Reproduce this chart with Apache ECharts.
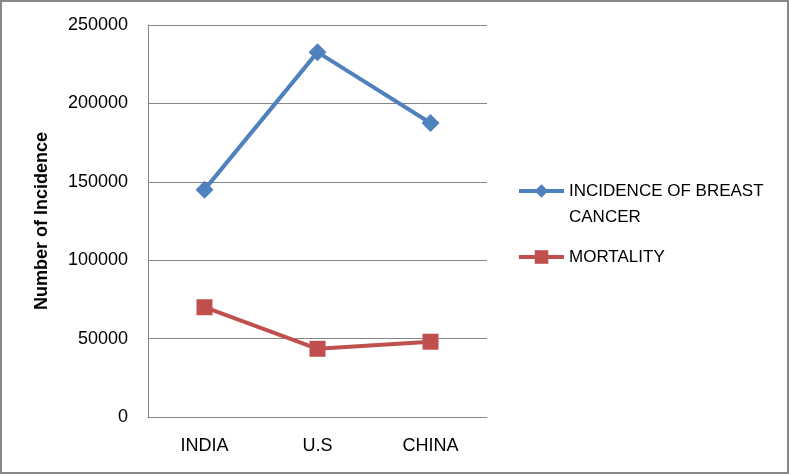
<!DOCTYPE html>
<html>
<head>
<meta charset="utf-8">
<script src="https://cdn.jsdelivr.net/npm/echarts@6/dist/echarts.min.js"></script>
<style>
  html, body { margin: 0; padding: 0; background: #fff; }
  #chart { width: 789px; height: 474px; box-sizing: border-box; border: 2px solid #888; }
</style>
</head>
<body>
<div id="chart"></div>
<script>
const categories = ['INDIA', 'U.S', 'CHINA'];
const incidence = [145000, 232700, 187500];
const mortality = [70000, 43500, 48000];
const yTicks = [0, 50000, 100000, 150000, 200000, 250000];

const FONT = '"Liberation Sans", Arial, sans-serif';
const BLUE = '#4F81BD';
const RED = '#C0504D';

const chart = echarts.init(document.getElementById('chart'));

chart.setOption({
    animation: false,
    backgroundColor: '#fff',
    textStyle: { fontFamily: FONT },
    grid: { left: 146, right: 300, top: 23, bottom: 55 },
    legend: [
        {
            // blank first line keeps the marker level with the first text line
            data: ['INCIDENCE OF BREAST CANCER'],
            left: 510,
            top: 145,
            itemWidth: 45,
            itemHeight: 17,
            lineStyle: { width: 4 },
            formatter: () => '\u00a0\nINCIDENCE OF BREAST\nCANCER',
            textStyle: { fontSize: 17, color: '#000', lineHeight: 26 }
        },
        {
            data: ['MORTALITY'],
            left: 510,
            top: 237,
            itemWidth: 45,
            itemHeight: 17,
            lineStyle: { width: 4 },
            textStyle: { fontSize: 17, color: '#000', lineHeight: 26 }
        }
    ],
    xAxis: {
        type: 'category',
        data: categories,
        boundaryGap: true,
        axisLine: { lineStyle: { color: '#868686', width: 1 } },
        axisTick: { show: false },
        axisLabel: { color: '#000', fontSize: 18, margin: 20 }
    },
    yAxis: {
        type: 'value',
        min: yTicks[0],
        max: yTicks[yTicks.length - 1],
        interval: 50000,
        name: 'Number of Incidence',
        nameLocation: 'middle',
        nameGap: 97,
        nameTextStyle: { color: '#000', fontSize: 18, fontWeight: 'bold' },
        axisLine: { show: true, lineStyle: { color: '#868686', width: 1 } },
        axisTick: { show: false },
        axisLabel: { color: '#000', fontSize: 18, margin: 20, formatter: v => String(v) },
        splitLine: { lineStyle: { color: '#868686', width: 1 } }
    },
    series: [
        {
            name: 'INCIDENCE OF BREAST CANCER',
            type: 'line',
            data: incidence,
            symbol: 'diamond',
            symbolSize: 18,
            lineStyle: { color: BLUE, width: 4 },
            itemStyle: { color: BLUE }
        },
        {
            name: 'MORTALITY',
            type: 'line',
            data: mortality,
            symbol: 'rect',
            symbolSize: 16,
            lineStyle: { color: RED, width: 4 },
            itemStyle: { color: RED }
        }
    ]
});
</script>
</body>
</html>
